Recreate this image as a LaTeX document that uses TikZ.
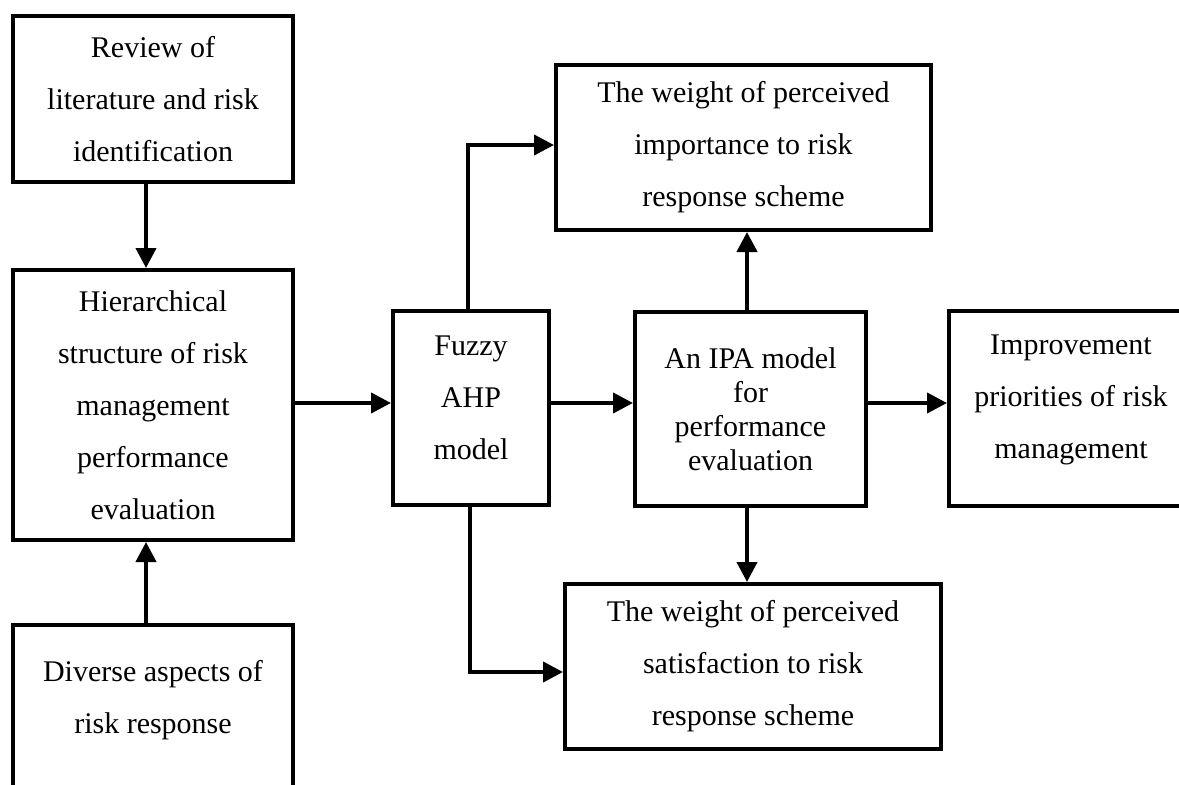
\documentclass[tikz,border=0pt]{standalone}
\usepackage{fontspec}
\setmainfont{Liberation Serif}
\usetikzlibrary{arrows.meta}
\begin{document}
\begin{tikzpicture}[x=1pt,y=-1pt,
  box/.style={draw, line width=4pt, rectangle, inner sep=0pt, align=center, font=\fontsize{30}{52}\selectfont},
  txt/.style={inner sep=0pt, align=center, font=\fontsize{30}{52}\selectfont},
  arr/.style={line width=4pt, -{Triangle[length=20pt,width=20pt]}}]
\useasboundingbox (0,0) rectangle (1179,785);
\fill[white] (0,0) rectangle (1179,785);
\clip (0,0) rectangle (1179,785);
% boxes
\node[box, minimum width=280pt, minimum height=166pt] (review) at (153,99) {Review of\\literature and risk\\identification};
\node[box, minimum width=280pt, minimum height=270pt] (hier) at (153,405) {Hierarchical\\structure of risk\\management\\performance\\evaluation};
\node[box, minimum width=280pt, minimum height=195pt] (diverse) at (153,722.5) {};
\node[txt] (diversetext) at (153,700) {Diverse aspects of\\risk response};
\node[box, minimum width=156pt, minimum height=194pt] (fuzzy) at (471,408) {};
\node[txt] (fuzzytext) at (471,398) {Fuzzy\\AHP\\model};
\node[box, minimum width=231pt, minimum height=194pt, font=\fontsize{30}{34}\selectfont] (ipa) at (750.5,409) {An IPA model\\for\\performance\\evaluation};
\node[box, minimum width=244pt, minimum height=195pt] (improve) at (1071,408.5) {};
\node[txt] (improvetext) at (1071,400) {Improvement\\priorities of risk\\management};
\node[box, minimum width=375pt, minimum height=165pt] (imp) at (743.5,147.5) {The weight of perceived\\importance to risk\\response scheme};
\node[box, minimum width=376pt, minimum height=165pt] (sat) at (753,666.5) {The weight of perceived\\satisfaction to risk\\response scheme};
% guide coordinates
\coordinate (mid) at (0,403);
\coordinate (lx) at (146,0);
\coordinate (ux) at (468,0);
\coordinate (dx) at (470,0);
\coordinate (vx) at (747,0);
\coordinate (uy) at (0,145);
\coordinate (sy) at (0,672);
% connectors
\draw[arr] (review.south -| lx) -- (hier.north -| lx);
\draw[arr] (diverse.north -| lx) -- (hier.south -| lx);
\draw[arr] (hier.east |- mid) -- (fuzzy.west |- mid);
\draw[arr] (fuzzy.east |- mid) -- (ipa.west |- mid);
\draw[arr] (ipa.east |- mid) -- (improve.west |- mid);
\draw[arr] (fuzzy.north -| ux) |- (imp.west |- uy);
\draw[arr] (fuzzy.south -| dx) |- (sat.west |- sy);
\draw[arr] (ipa.north -| vx) -- (imp.south -| vx);
\draw[arr] (ipa.south -| vx) -- (sat.north -| vx);
\end{tikzpicture}
\end{document}
